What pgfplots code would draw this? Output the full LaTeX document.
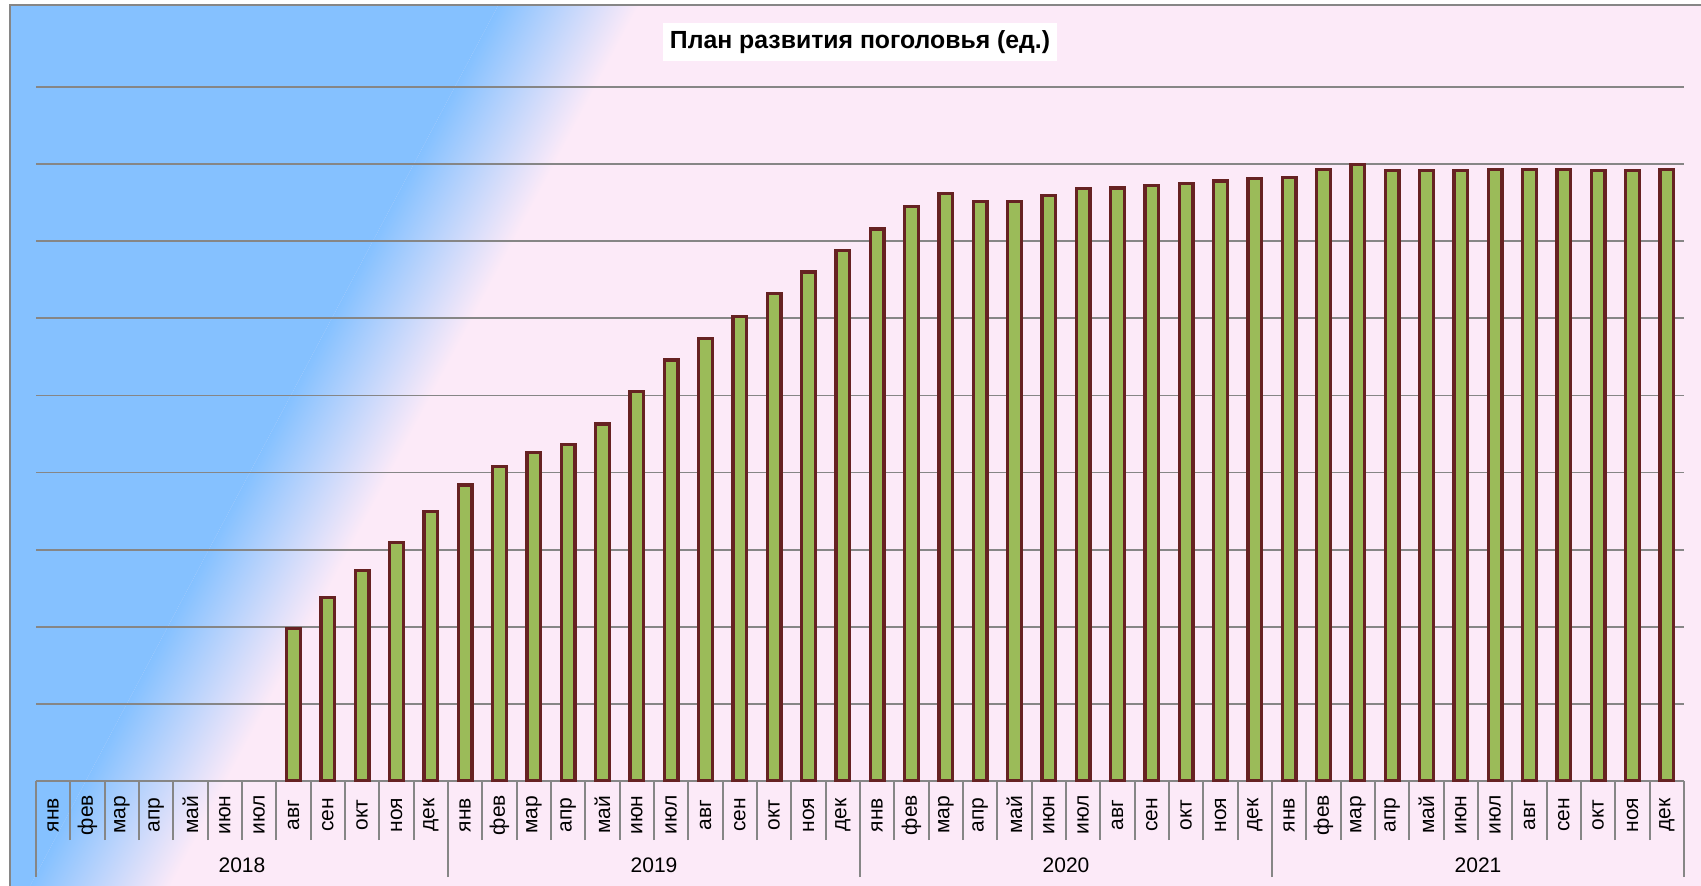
\documentclass[border=0pt]{standalone}
\usepackage{pgfplots}
\pgfplotsset{compat=1.18}
\usepackage{fontspec}
\setmainfont{Liberation Sans}

\definecolor{bgblue}{RGB}{133,193,255}
\definecolor{bgmid}{RGB}{204,216,238}
\definecolor{bgpink}{RGB}{252,234,248}
\definecolor{barfill}{RGB}{155,187,89}
\definecolor{barline}{RGB}{102,34,34}
\definecolor{gridgray}{RGB}{134,134,134}

\begin{document}
\begin{tikzpicture}
\useasboundingbox (0,0) rectangle (850.5pt,442.5pt);
% background: blue on the left, slanted fade into pink
\begin{scope}
  \clip (5pt,-5pt) rectangle (860pt,440pt);
  \fill[bgpink] (5pt,-5pt) rectangle (860pt,440pt);
  \begin{scope}[transform canvas={rotate around={-28:(149.5pt,252.5pt)}}]
    \fill[bgblue] (-600pt,-600pt) rectangle (149.5pt,1200pt);
    \shade[left color=bgblue, middle color=bgmid, right color=bgpink]
      (149.5pt,-600pt) rectangle (211.5pt,1200pt);
  \end{scope}
\end{scope}
\draw[gridgray, line width=1pt] (5pt,-5pt) -- (5pt,440pt) -- (860pt,440pt);

\begin{axis}[
  at={(18pt,52pt)}, anchor=south west,
  scale only axis, width=824pt, height=347pt,
  xmin=-0.5, xmax=47.5, ymin=0, ymax=900,
  enlargelimits=false, clip mode=individual,
  ybar, bar width=0.40,
  axis line style={draw=none},
  ytick={0,100,...,900}, yticklabels={},
  ymajorgrids,
  major grid style={gridgray, line width=0.9pt},
  xtick={0,...,47},
  xticklabels={янв,фев,мар,апр,май,июн,июл,авг,сен,окт,ноя,дек,
               янв,фев,мар,апр,май,июн,июл,авг,сен,окт,ноя,дек,
               янв,фев,мар,апр,май,июн,июл,авг,сен,окт,ноя,дек,
               янв,фев,мар,апр,май,июн,июл,авг,сен,окт,ноя,дек},
  xticklabel style={rotate=90, anchor=center, font=\fontsize{10.5}{12}\selectfont},
  xticklabel shift=17pt,
  major tick length=0pt,
  minor xtick={-0.5,0.5,...,47.5},
  minor tick length=29.5pt,
  tick align=outside, xtick pos=left, ytick pos=left,
  tick style={gridgray, line width=0.9pt},
  extra x ticks={-0.5,11.5,23.5,35.5,47.5},
  extra x tick labels={},
  extra x tick style={major tick length=48pt},
]
\addplot[fill=barfill, draw=barline, line width=1.6pt] coordinates {
  (7,198) (8,238) (9,273) (10,309) (11,349)
  (12,384) (13,408) (14,426) (15,436) (16,463) (17,505)
  (18,546) (19,574) (20,602) (21,632) (22,660) (23,688)
  (24,716) (25,745) (26,762) (27,752) (28,752) (29,759)
  (30,768) (31,769) (32,772) (33,775) (34,778) (35,781)
  (36,783) (37,793) (38,799) (39,792) (40,792) (41,792)
  (42,793) (43,793) (44,793) (45,792) (46,792) (47,793)
};
\node[font=\fontsize{10.5}{12}\selectfont] at ([yshift=-42pt]axis cs:5.5,0) {2018};
\node[font=\fontsize{10.5}{12}\selectfont] at ([yshift=-42pt]axis cs:17.5,0) {2019};
\node[font=\fontsize{10.5}{12}\selectfont] at ([yshift=-42pt]axis cs:29.5,0) {2020};
\node[font=\fontsize{10.5}{12}\selectfont] at ([yshift=-42pt]axis cs:41.5,0) {2021};
\end{axis}

\node[fill=white, inner xsep=3.5pt, minimum height=19pt,
      font=\bfseries\fontsize{12.4}{14}\selectfont] at (430pt,421.5pt)
  {План развития поголовья (ед.)};
\end{tikzpicture}
\end{document}
